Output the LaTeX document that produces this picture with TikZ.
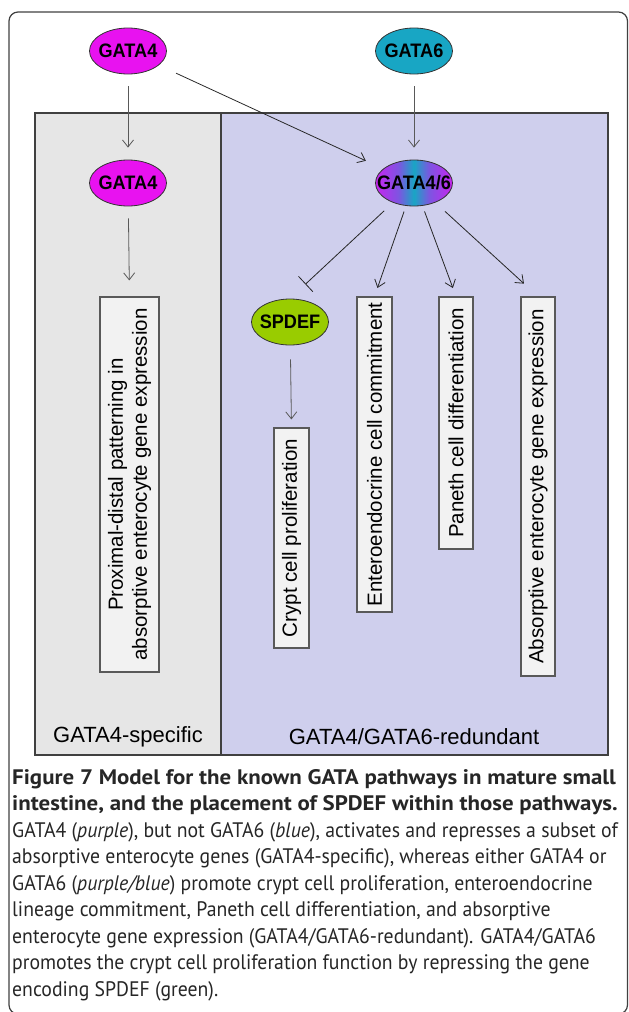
\documentclass[tikz,border=0pt]{standalone}
\usepackage{fontspec}
\setmainfont{Liberation Sans}
\newfontfamily\genefont[FakeStretch=0.93]{Liberation Sans}
\newfontfamily\capfont[FakeStretch=0.94]{PT Sans}
\newfontfamily\captitle[FakeStretch=1.09]{PT Sans}
\usetikzlibrary{shapes.geometric,arrows.meta}
\usetikzlibrary{positioning}

\definecolor{gatafour}{RGB}{232,18,240}
\definecolor{gatasix}{RGB}{24,166,196}
\definecolor{spdefgreen}{RGB}{153,204,0}
\definecolor{mixmid}{RGB}{125,85,225}
\definecolor{mixedge}{RGB}{200,36,240}
\definecolor{specgray}{RGB}{230,230,230}
\definecolor{redlav}{RGB}{207,207,237}
\definecolor{boxfill}{RGB}{242,242,242}
\pgfdeclarehorizontalshading{gatamix}{100bp}{color(0bp)=(mixedge); color(25bp)=(mixedge);
  color(40bp)=(mixmid); color(50bp)=(gatasix); color(60bp)=(mixmid); color(75bp)=(mixedge);
  color(100bp)=(mixedge)}

\tikzstyle{gene} = [ellipse, draw=black!80, line width=0.8pt, minimum width=77pt,
minimum height=46pt, inner sep=0pt, inner xsep=-12pt, font=\genefont\fontsize{19.5}{20}\selectfont\bfseries]
\tikzstyle{fate} = [rectangle, draw=black!65, fill=boxfill, line width=1.1pt, rotate=90,
align=center, inner sep=0pt, font=\fontsize{20.5}{24}\selectfont]
\tikzstyle{panel} = [draw=black!75, line width=1.2pt]
\tikzstyle{line} = [draw, -{Straight Barb[length=7pt,width=11pt]}, line width=0.8pt, color=black!85]
\tikzstyle{block} = [draw, -{Bar[width=21pt]}, line width=0.8pt, color=black!85]

\begin{document}
\begin{tikzpicture}[x=1pt,y=-1pt]
	\useasboundingbox (0,0) rectangle (629,1012);
	\draw [black!75, line width=1.2pt, rounded corners=9pt] (9,12) rectangle (627.5,1014);
	%% Panels
	\draw [panel, fill=specgray] (35,113) rectangle (221,755);
	\draw [panel, fill=redlav] (221,113) rectangle (608,755);
	\node [font=\fontsize{22}{24}\selectfont] (specific) at (128,737) {GATA4-specific};
	\node [font=\fontsize{22}{24}\selectfont] (redundant) at (414,737) {GATA4/GATA6-redundant};
	%% Factors
	\node [gene, fill=gatafour] (G4top) at (128,51) {GATA4};
	\node [gene, fill=gatasix] (G6top) at (414,51) {GATA6};
	\node [gene, fill=gatafour] (G4) at (128,183) {GATA4};
	\node [gene, shading=gatamix] (G46) at (414,183) {GATA4/6};
	\node [gene, fill=spdefgreen] (SPDEF) at (290,322) {SPDEF};
	%% Outcomes
	\node [fate, minimum width=375pt, minimum height=59pt] (prox) at (129.5,484.5)
		{Proximal-distal patterning in\\absorptive enterocyte gene expression};
	\node [fate, minimum width=220pt, minimum height=35pt] (crypt) at (291.5,538) {Crypt cell proliferation};
	\node [fate, minimum width=315pt, minimum height=35pt] (entero) at (374.5,454.5) {Enteroendocrine cell commitment};
	\node [fate, minimum width=252pt, minimum height=34pt] (paneth) at (456,423) {Paneth cell differentiation};
	\node [fate, minimum width=379pt, minimum height=34pt] (absorb) at (538,486.5) {Absorptive enterocyte gene expression};
	%% Flows
	\path [line, black!65, shorten <=12pt, shorten >=12pt] (G4top) -- (G4);
	\path [line, black!65, shorten <=12pt, shorten >=12pt] (G6top) -- (G46);
	\path [line, shorten <=19pt, shorten >=19pt] (G4top) -- (G46);
	\path [line, black!65, shorten <=12pt, shorten >=16pt] (G4) -- (prox.east);
	\path [block, shorten <=12pt, shorten >=21pt] (G46) -- (SPDEF.north);
	\path [line, shorten <=6pt, shorten >=9pt] (G46) -- (entero.east);
	\path [line, shorten <=6pt, shorten >=9pt] (G46) -- (paneth.east);
	\path [line, shorten <=13pt, shorten >=19pt] (G46) -- (absorb.east);
	\path [line, black!65, shorten <=14pt, shorten >=8pt] (SPDEF) -- (crypt.east);
	%% Caption
	\node [anchor=north west, align=left, inner sep=0pt, text=black!85, font=\capfont\fontsize{21}{26.5}\selectfont] (caption) at (12,769)
		{{\captitle\bfseries Figure 7 Model for the known GATA pathways in mature small}\\
		{\captitle\bfseries intestine, and the placement of SPDEF within those pathways.}\\
		GATA4 (\textit{purple}), but not GATA6 (\textit{blue}), activates and represses a subset of\\
		absorptive enterocyte genes (GATA4-specific), whereas either GATA4 or\\
		GATA6 (\textit{purple/blue}) promote crypt cell proliferation, enteroendocrine\\
		lineage commitment, Paneth cell differentiation, and absorptive\\
		enterocyte gene expression (GATA4/GATA6-redundant). GATA4/GATA6\\
		promotes the crypt cell proliferation function by repressing the gene\\
		encoding SPDEF (green).};
\end{tikzpicture}
\end{document}
